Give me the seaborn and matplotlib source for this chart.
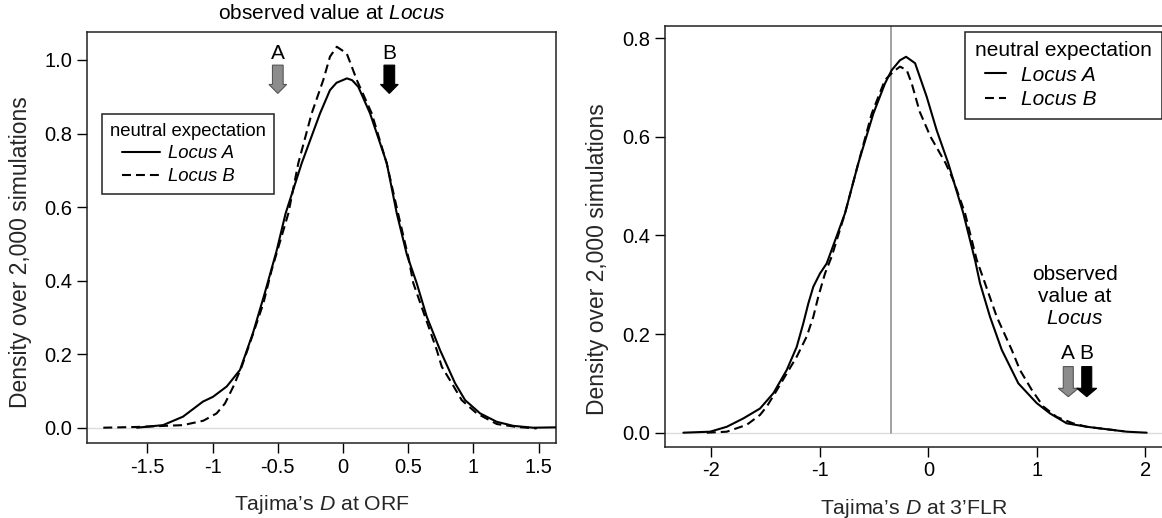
import numpy as np
import pandas as pd
import matplotlib
matplotlib.use("Agg")
import matplotlib.pyplot as plt
import seaborn as sns
from matplotlib.lines import Line2D
from matplotlib.legend_handler import HandlerLine2D
from matplotlib.patches import FancyArrow

# ---------------- data ----------------
# Left panel: Tajima's D at ORF
orf_x_A = [-1.58, -1.38, -1.227, -1.074, -0.997, -0.892, -0.79, -0.69, -0.60, -0.51, -0.44,
           -0.317, -0.176, -0.10, -0.05, 0.03, 0.07, 0.117, 0.207, 0.335, 0.412, 0.49, 0.565,
           0.642, 0.744, 0.859, 0.936, 1.051, 1.179, 1.306, 1.457, 1.633]
orf_y_A = [0.0, 0.007, 0.030, 0.071, 0.084, 0.112, 0.157, 0.258, 0.366, 0.480, 0.583,
           0.719, 0.855, 0.918, 0.938, 0.950, 0.945, 0.927, 0.855, 0.720, 0.583, 0.470, 0.393,
           0.302, 0.211, 0.121, 0.075, 0.039, 0.016, 0.005, 0.0, 0.001]
orf_x_B = [-1.838, -1.582, -1.227, -1.071, -0.969, -0.905, -0.841, -0.777, -0.688, -0.611, -0.547,
           -0.419, -0.343, -0.240, -0.151, -0.100, -0.048, 0.028, 0.067, 0.105, 0.220,
           0.335, 0.422, 0.50, 0.539, 0.629, 0.719, 0.757, 0.834, 0.910, 1.025, 1.179, 1.332, 1.485]
orf_y_B = [0.0, 0.002, 0.007, 0.019, 0.039, 0.066, 0.112, 0.166, 0.257, 0.338, 0.429,
           0.583, 0.719, 0.855, 0.946, 1.009, 1.036, 1.018, 0.982, 0.946, 0.855,
           0.719, 0.583, 0.465, 0.393, 0.302, 0.211, 0.166, 0.121, 0.075, 0.039, 0.010, 0.002, -0.002]
orf_obs = [-0.50, 0.355]          # observed D at Locus A, Locus B

# Right panel: Tajima's D at 3'FLR
flr_x_A = [-2.256, -2.010, -1.856, -1.703, -1.550, -1.427, -1.304, -1.212, -1.151, -1.105, -1.059,
           -0.997, -0.936, -0.767, -0.645, -0.506, -0.399, -0.337, -0.261, -0.205, -0.122, -0.015,
           0.077, 0.184, 0.322, 0.430, 0.476, 0.568, 0.676, 0.829, 0.998, 1.121, 1.274, 1.459,
           1.643, 1.827, 2.011]
flr_y_A = [0.0, 0.002, 0.012, 0.029, 0.049, 0.080, 0.127, 0.174, 0.222, 0.262, 0.296,
           0.323, 0.343, 0.445, 0.546, 0.647, 0.708, 0.735, 0.755, 0.762, 0.749, 0.681,
           0.613, 0.546, 0.445, 0.350, 0.303, 0.235, 0.168, 0.100, 0.060, 0.039, 0.019, 0.012,
           0.007, 0.002, 0.0]
flr_x_B = [-2.040, -1.856, -1.672, -1.550, -1.488, -1.412, -1.304, -1.212, -1.120, -1.059, -1.013,
           -0.951, -0.890, -0.767, -0.645, -0.521, -0.399, -0.322, -0.261, -0.199, -0.153, -0.08,
           0.02, 0.16, 0.23, 0.338, 0.446, 0.522, 0.630, 0.768, 0.844, 0.952, 1.059, 1.182,
           1.332, 1.459, 1.643, 1.80]
flr_y_B = [0.0, 0.002, 0.016, 0.036, 0.053, 0.080, 0.120, 0.154, 0.195, 0.235, 0.276,
           0.323, 0.357, 0.445, 0.546, 0.647, 0.715, 0.732, 0.742, 0.735, 0.708, 0.651,
           0.600, 0.546, 0.512, 0.445, 0.350, 0.303, 0.235, 0.168, 0.127, 0.087, 0.053, 0.032,
           0.019, 0.012, 0.007, 0.003]
flr_obs = [1.289, 1.459]
flr_vline = -0.345

orf_xticks = [-1.5, -1, -0.5, 0, 0.5, 1, 1.5]
orf_xticklabels = ["-1.5", "-1", "-0.5", "0", "0.5", "1", "1.5"]
orf_yticks = [0.0, 0.2, 0.4, 0.6, 0.8, 1.0]
flr_xticks = [-2, -1, 0, 1, 2]
flr_xticklabels = ["-2", "-1", "0", "1", "2"]
flr_yticks = [0.0, 0.2, 0.4, 0.6, 0.8]

series_names = ["Locus A", "Locus B"]

# ---------------- style ----------------
sns.set_style("ticks")
plt.rcParams["font.family"] = ["Liberation Sans", "DejaVu Sans"]
plt.rcParams["mathtext.fontset"] = "custom"
plt.rcParams["mathtext.rm"] = "Liberation Sans"
plt.rcParams["mathtext.it"] = "Liberation Sans:italic"
plt.rcParams["axes.unicode_minus"] = False
plt.rcParams["text.color"] = "black"


class IndentLine(HandlerLine2D):
    def __init__(self, indent, **kw):
        super().__init__(**kw)
        self.indent = indent

    def get_xdata(self, legend, xdescent, ydescent, width, height, fontsize):
        xd, xm = super().get_xdata(legend, xdescent, ydescent, width, height, fontsize)
        return np.array([-xdescent + self.indent, width - xdescent]), xm


fig = plt.figure(figsize=(11.62, 5.18), dpi=100)
axL = fig.add_axes([87 / 1162, 1 - 443 / 518, (556 - 87) / 1162, (443 - 32) / 518])
axR = fig.add_axes([665 / 1162, 1 - 446.7 / 518, (1162 - 665) / 1162, (446.7 - 26) / 518])

LW = 1.5
DASH = (0, (4.3, 2.4))


def draw_curves(ax, xa, ya, xb, yb):
    dA = pd.DataFrame({"x": xa, "y": ya})
    dB = pd.DataFrame({"x": xb, "y": yb})
    sns.lineplot(data=dA, x="x", y="y", ax=ax, color="black", lw=LW, estimator=None,
                 label=series_names[0], zorder=3)
    sns.lineplot(data=dB, x="x", y="y", ax=ax, color="black", lw=LW, linestyle=DASH,
                 estimator=None, label=series_names[1], zorder=3)


def style_axes(ax, fs):
    for s in ax.spines.values():
        s.set_color("#222222")
        s.set_linewidth(1.1)
    ax.tick_params(direction="out", length=7, width=1.0, pad=3.5, labelsize=fs,
                   colors="black")


# ---------- left panel ----------
axL.axhline(0, color="#dcdcdc", lw=1.0, zorder=1)
draw_curves(axL, orf_x_A, orf_y_A, orf_x_B, orf_y_B)
axL.set_xlim(-1.963, 1.633)
axL.set_ylim(-0.0416, 1.0761)
axL.set_xticks(orf_xticks)
axL.set_xticklabels(orf_xticklabels)
axL.set_yticks(orf_yticks)
axL.set_yticklabels([f"{v:.1f}" for v in orf_yticks])
style_axes(axL, 14.5)
axL.set_xlabel("Tajima’s $\\mathit{D}$ at ORF", fontsize=15.3, labelpad=12)
axL.set_ylabel("Density over 2,000 simulations", fontsize=16.5)
axL.yaxis.set_label_coords(-0.117, 0.465)
axL.text(0.522, 1.046, "observed value at $\\mathit{Locus}$", transform=axL.transAxes,
         ha="center", va="center", fontsize=15)

arrow_cols = [("#8c8c8c", "#555555"), ("black", "black")]
for (xo, lab, (fc, ec)) in zip(orf_obs, ["A", "B"], arrow_cols):
    axL.add_patch(FancyArrow(xo, 0.986, 0, -0.077, width=0.082, head_width=0.136,
                             head_length=0.0245, length_includes_head=True,
                             fc=fc, ec=ec, lw=0.8, zorder=4))
    axL.text(xo, 1.018, lab, ha="center", va="center", fontsize=15)

legL = axL.legend(title="neutral expectation", loc="upper left",
                  bbox_to_anchor=(0.031, 0.800), borderaxespad=0, fontsize=13.3,
                  title_fontsize=13.3, handlelength=2.71, handletextpad=0.44,
                  labelspacing=0.32, borderpad=0.45, fancybox=False, framealpha=1,
                  edgecolor="#222222", alignment="left",
                  handler_map={Line2D: IndentLine(8.9)})
legL.get_frame().set_linewidth(1.1)
for t in legL.get_texts():
    t.set_style("italic")

# ---------- right panel ----------
axR.axhline(0, color="#dcdcdc", lw=1.0, zorder=1)
ylo, yhi = -0.0284, 0.8244
axR.axvline(flr_vline, ymin=(0 - ylo) / (yhi - ylo), ymax=1, color="#9a9a9a", lw=1.3, zorder=2)
draw_curves(axR, flr_x_A, flr_y_A, flr_x_B, flr_y_B)
axR.set_xlim(-2.425, 2.152)
axR.set_ylim(ylo, yhi)
axR.set_xticks(flr_xticks)
axR.set_xticklabels(flr_xticklabels)
axR.set_yticks(flr_yticks)
axR.set_yticklabels([f"{v:.1f}" for v in flr_yticks])
style_axes(axR, 14.5)
axR.spines["right"].set_visible(False)
axR.set_xlabel("Tajima’s $\\mathit{D}$ at 3’FLR", fontsize=15.3, labelpad=12)
axR.set_ylabel("Density over 2,000 simulations", fontsize=16.5)
axR.yaxis.set_label_coords(-0.113, 0.447)
axR.text(1.351, 0.276, "observed\nvalue at\n$\\mathit{Locus}$", ha="center", va="center",
         fontsize=15, linespacing=1.18, multialignment="center")
for (xo, lab, (fc, ec)) in zip(flr_obs, ["A", "B"], arrow_cols):
    axR.add_patch(FancyArrow(xo, 0.134, 0, -0.061, width=0.092, head_width=0.184,
                             head_length=0.017, length_includes_head=True,
                             fc=fc, ec=ec, lw=0.8, zorder=4))
    axR.text(xo, 0.161, lab, ha="center", va="center", fontsize=15)

legR = axR.legend(title="neutral expectation", loc="upper right",
                  bbox_to_anchor=(0.999, 0.9865), borderaxespad=0, fontsize=15,
                  title_fontsize=15, handlelength=1.5, handletextpad=0.72,
                  labelspacing=0.26, borderpad=0.46, fancybox=False, framealpha=1,
                  edgecolor="#222222", alignment="left",
                  handler_map={Line2D: IndentLine(7.4)})
legR.get_frame().set_linewidth(1.1)
for t in legR.get_texts():
    t.set_style("italic")

fig.savefig("out.png", dpi=100)
